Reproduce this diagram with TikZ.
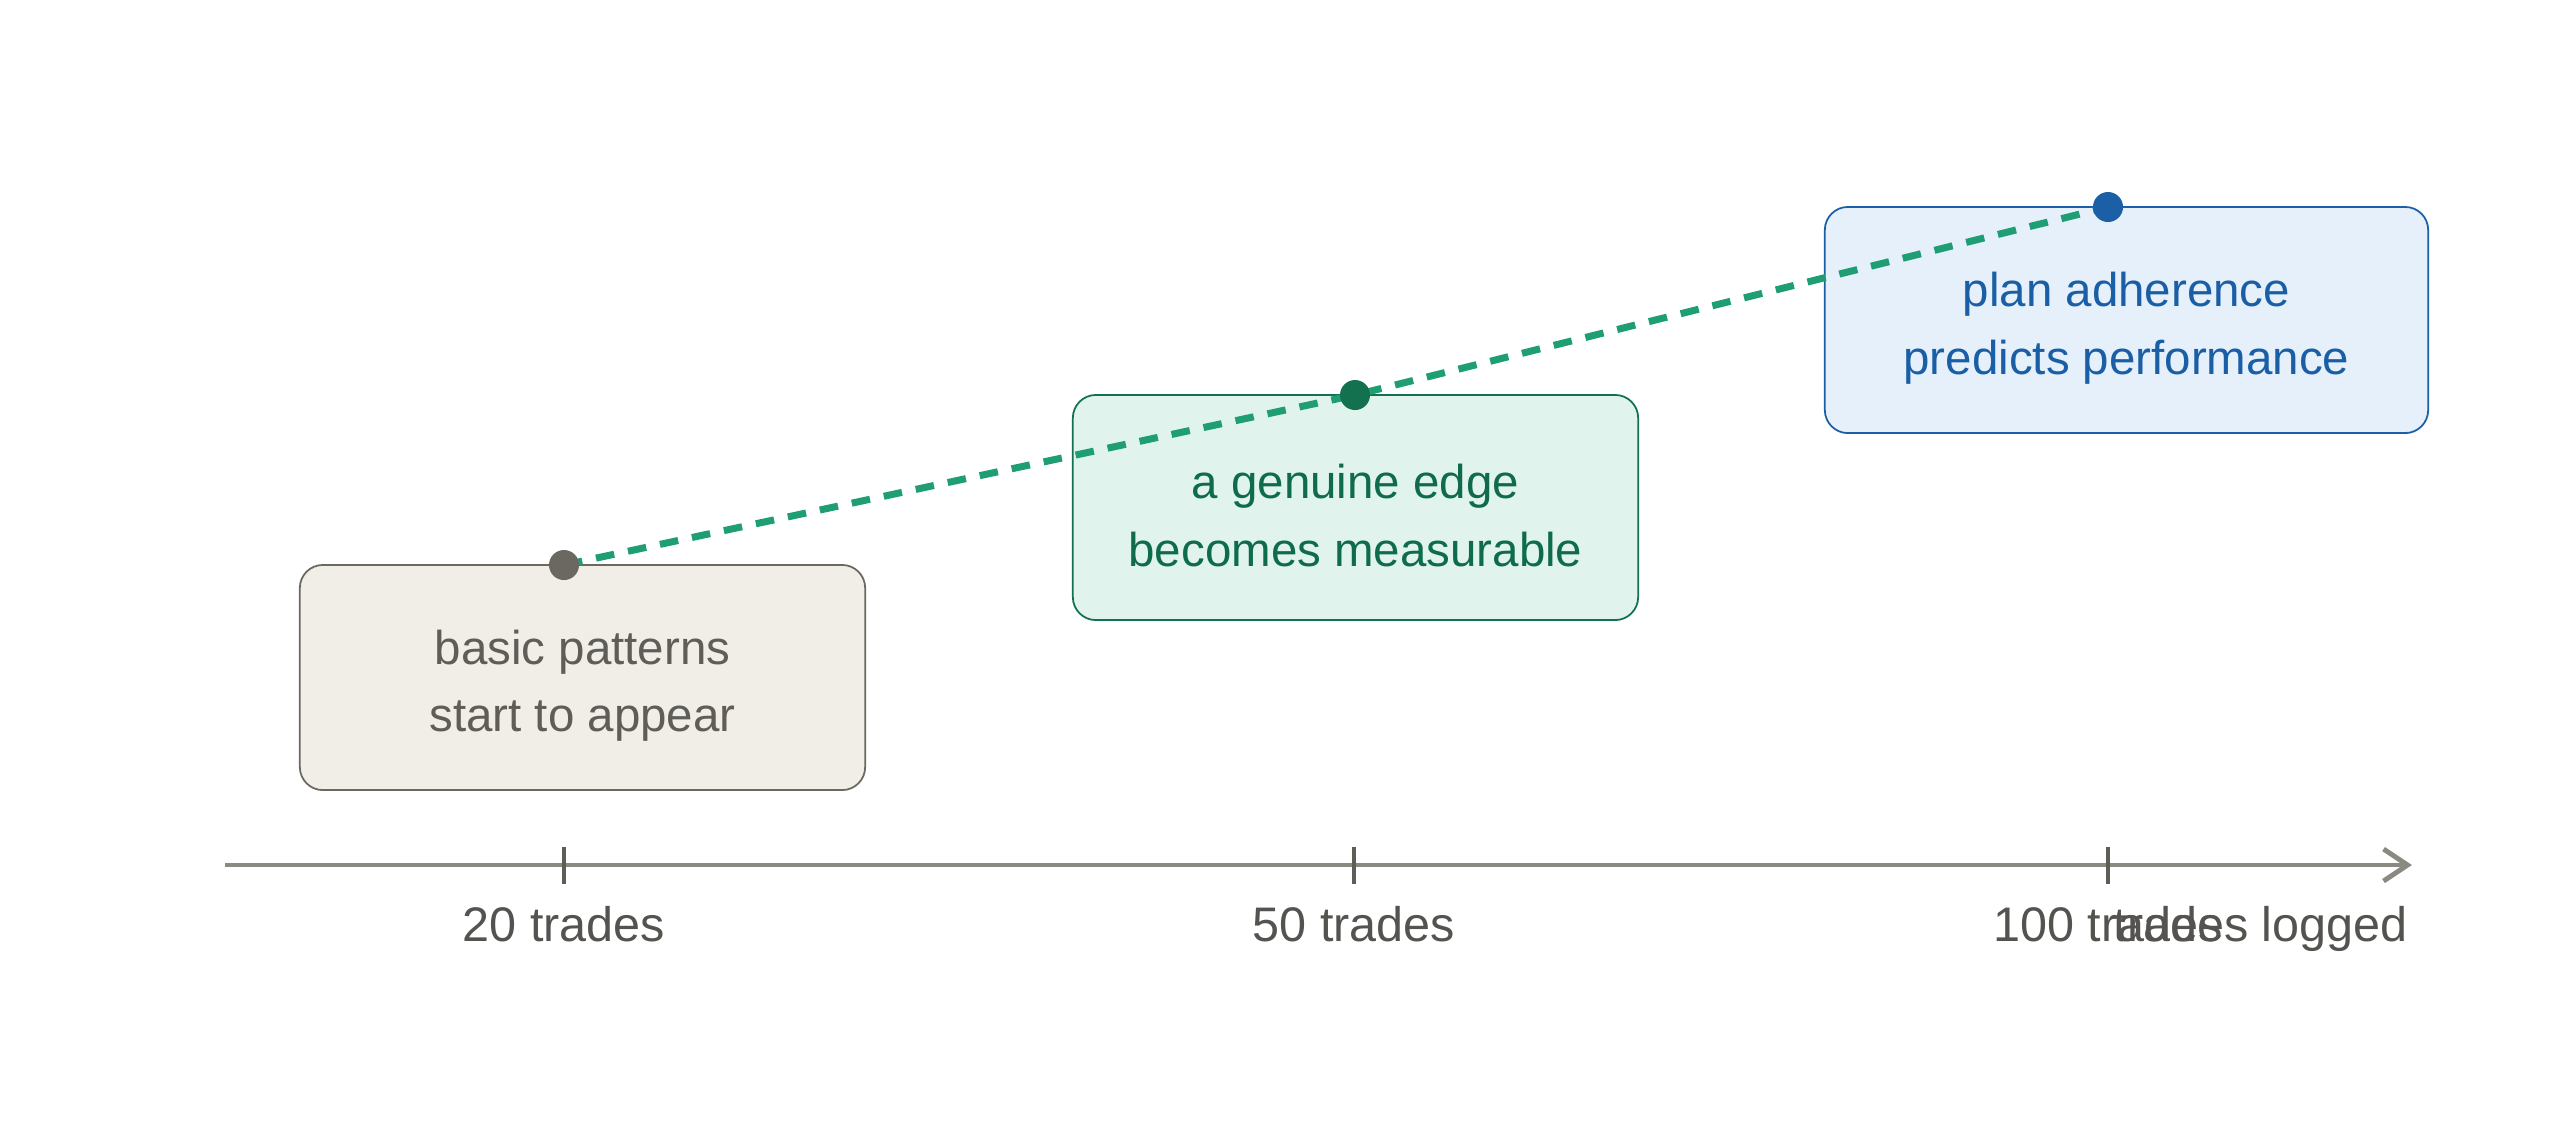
\documentclass[tikz,border=0pt]{standalone}
\usepackage{fontspec}
\setmainfont{Liberation Sans}
\usetikzlibrary{arrows.meta}
\definecolor{grayfill}{HTML}{F1EEE8}
\definecolor{graydraw}{HTML}{6B6862}
\definecolor{graytext}{HTML}{5F5D58}
\definecolor{greenfill}{HTML}{E0F3EC}
\definecolor{greendraw}{HTML}{137150}
\definecolor{greentext}{HTML}{0E6B4B}
\definecolor{bluefill}{HTML}{E5F0FA}
\definecolor{bluedraw}{HTML}{1B5FA6}
\definecolor{bluetext}{HTML}{1A5FA6}
\definecolor{dashgreen}{HTML}{1E9E72}
\definecolor{axisgray}{HTML}{8A8A82}
\definecolor{labeltext}{HTML}{55534F}
\tikzset{
  stagebox/.style={rounded corners=0.23cm, line width=0.5pt, inner sep=0pt},
  stagetext/.style={align=center, font=\fontsize{13.5}{19.2}\selectfont, inner sep=0pt},
  grayb/.style={stagebox, fill=grayfill, draw=graydraw},
  greenb/.style={stagebox, fill=greenfill, draw=greendraw},
  blueb/.style={stagebox, fill=bluefill, draw=bluedraw},
  dotmark/.style={circle, inner sep=0pt, minimum size=0.30cm},
  ticklabel/.style={font=\fontsize{13.8}{16}\selectfont, text=labeltext, anchor=base},
  tickmark/.style={draw=graytext, line width=1.1pt},
}
\begin{document}
\begin{tikzpicture}[x=0.01cm, y=-0.01cm]
\useasboundingbox (0,0) rectangle (2560,1129);
% boxes
\node[grayb, minimum width=5.65cm, minimum height=2.25cm] (b1) at (582.5,677.5) {};
\node[greenb, minimum width=5.65cm, minimum height=2.25cm] (b2) at (1355.5,507.5) {};
\node[blueb, minimum width=6.03cm, minimum height=2.26cm] (b3) at (2126.5,320) {};
\node[stagetext, text=graytext] (b1t) at ([yshift=-0.08cm]b1.center) {basic patterns\\start to appear};
\node[stagetext, text=greentext] (b2t) at ([yshift=-0.08cm]b2.center) {a genuine edge\\becomes measurable};
\node[stagetext, text=bluetext] (b3t) at ([yshift=-0.08cm]b3.center) {plan adherence\\predicts performance};
% axis
\coordinate (axs) at (225,865);
\coordinate (axe) at (2412,865);
\draw[axisgray, line width=1.4pt, -{Straight Barb[length=0.24cm, width=0.32cm, line width=1.4pt]}] (axs) -- (axe);
% ticks
\coordinate (t1a) at (564,847); \coordinate (t1b) at (564,884);
\coordinate (t2a) at (1354,847); \coordinate (t2b) at (1354,884);
\coordinate (t3a) at (2108,847); \coordinate (t3b) at (2108,884);
\draw[tickmark] (t1a) -- (t1b);
\draw[tickmark] (t2a) -- (t2b);
\draw[tickmark] (t3a) -- (t3b);
% tick labels
\node[ticklabel] (l1) at (564,941) {20 trades};
\node[ticklabel] (l2) at (1354,941) {50 trades};
\node[ticklabel] (l3) at (2108,941) {100 trades};
\node[ticklabel, anchor=base east] (l4) at (2420,941) {trades logged};
% dots
\node[dotmark] (d1) at (564,565) {};
\node[dotmark] (d2) at (1355,395) {};
\node[dotmark] (d3) at (2108,207) {};
\draw[dashgreen, line width=2pt, dash pattern=on 5.3pt off 4pt] (d1.center) -- (d2.center) -- (d3.center);
\fill[graydraw] (d1) circle (0.15cm);
\fill[greendraw] (d2) circle (0.15cm);
\fill[bluedraw] (d3) circle (0.15cm);
\end{tikzpicture}
\end{document}
